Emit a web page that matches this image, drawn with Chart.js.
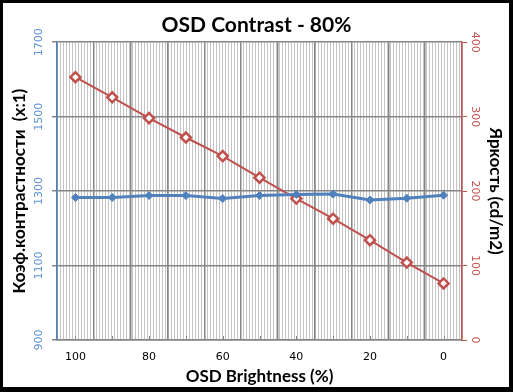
<!DOCTYPE html>
<html>
<head>
<meta charset="utf-8">
<script src="https://cdn.jsdelivr.net/npm/chart.js@4"></script>
<style>
    body { margin: 0; }
    #frame { position: relative; width: 513px; height: 392px; background: #000; }
    #inner { position: absolute; left: 3px; top: 3px; width: 506px; height: 384px; background: #fff; }
    #chart { position: absolute; left: 0; top: 0; }
</style>
</head>
<body>
<div id="frame">
    <div id="inner"></div>
    <canvas id="chart" width="513" height="392"></canvas>
</div>
<script>
// Chart data
const brightnessLevels = ['100', '90', '80', '70', '60', '50', '40', '30', '20', '10', '0'];
const contrastRatio = [1283, 1283, 1288, 1288, 1280, 1288, 1291, 1292, 1276, 1281, 1289];
const luminance = [353, 326, 298, 272, 247, 218, 190, 163, 134, 104, 76];
const contrastTicks = [900, 1100, 1300, 1500, 1700];
const luminanceTicks = [0, 100, 200, 300, 400];

const BLUE = '#4F81BD';
const RED = '#C0504D';
const GRID = '#868686';

// vertical hatch pattern behind the plot
function makeStripes(ctx) {
    const c = document.createElement('canvas');
    c.width = 3;
    c.height = 1;
    const p = c.getContext('2d');
    p.fillStyle = '#ffffff';
    p.fillRect(0, 0, 3, 1);
    p.fillStyle = '#c4c4c4';
    p.fillRect(0, 0, 1, 1);
    return ctx.createPattern(c, 'repeat');
}

const stripesPlugin = {
    id: 'stripes',
    beforeDraw(chart) {
        const { ctx, chartArea: a } = chart;
        ctx.save();
        ctx.fillStyle = makeStripes(ctx);
        ctx.fillRect(a.left, a.top, a.right - a.left, a.bottom - a.top);
        ctx.restore();
    }
};

// rotated y tick labels, as in the original
const yLabelsPlugin = {
    id: 'yLabels',
    afterDraw(chart) {
        const ctx = chart.ctx;
        ctx.save();
        ctx.font = '11px "DejaVu Sans"';
        ctx.textAlign = 'center';
        ctx.textBaseline = 'middle';

        const left = chart.scales.y;
        ctx.fillStyle = '#5B8FD6';
        contrastTicks.forEach(v => {
            const y = left.getPixelForValue(v);
            ctx.save();
            ctx.translate(39, y);
            ctx.rotate(-Math.PI / 2);
            ctx.fillText(String(v), 0, 0);
            ctx.restore();
        });

        const right = chart.scales.y2;
        ctx.fillStyle = RED;
        luminanceTicks.forEach(v => {
            const y = right.getPixelForValue(v);
            ctx.save();
            ctx.translate(475, y);
            ctx.rotate(Math.PI / 2);
            ctx.fillText(String(v), 0, 0);
            ctx.restore();
        });

        // small inner tick marks on the category axis
        const x = chart.scales.x;
        ctx.strokeStyle = GRID;
        ctx.lineWidth = 1;
        brightnessLevels.forEach((_, i) => {
            const px = Math.round(x.getPixelForValue(i)) + 0.5;
            ctx.beginPath();
            ctx.moveTo(px, x.top);
            ctx.lineTo(px, x.top - 4);
            ctx.stroke();
        });
        ctx.restore();
    }
};

const ctx = document.getElementById('chart').getContext('2d');
new Chart(ctx, {
    type: 'line',
    data: {
        labels: brightnessLevels,
        datasets: [
            {
                label: 'Contrast',
                data: contrastRatio,
                yAxisID: 'y',
                borderColor: BLUE,
                backgroundColor: BLUE,
                borderWidth: 3,
                pointStyle: 'rectRot',
                pointRadius: 4,
                pointBorderWidth: 1,
                tension: 0
            },
            {
                label: 'Luminance',
                data: luminance,
                yAxisID: 'y2',
                borderColor: RED,
                backgroundColor: '#ffffff',
                borderWidth: 2,
                pointStyle: 'rectRot',
                pointRadius: 5,
                pointBorderWidth: 2.5,
                tension: 0
            }
        ]
    },
    options: {
        responsive: false,
        animation: false,
        layout: { padding: 0 },
        plugins: {
            legend: { display: false },
            tooltip: { enabled: false },
            title: {
                display: true,
                text: 'OSD Contrast - 80%',
                color: '#000',
                font: { family: 'Lato', size: 21, weight: 'bold' },
                padding: { top: 13, bottom: 4 }
            }
        },
        scales: {
            x: {
                offset: true,
                grid: {
                    offset: true,
                    color: GRID,
                    lineWidth: 1.5,
                    drawTicks: false
                },
                border: { color: GRID, width: 1.5 },
                ticks: {
                    autoSkip: false,
                    maxRotation: 0,
                    padding: 11,
                    color: '#000',
                    font: { family: 'DejaVu Sans', size: 11 },
                    callback: (v, i) => (i % 2 === 0 ? brightnessLevels[i] : '')
                },
                title: {
                    display: true,
                    text: 'OSD Brightness (%)',
                    color: '#000',
                    font: { family: 'Lato', size: 17, weight: 'bold' },
                    padding: { top: 0, bottom: 5 }
                },
                afterFit: s => { s.height = 52; }
            },
            y: {
                position: 'left',
                min: 900,
                max: 1700,
                ticks: { stepSize: 200, display: false },
                grid: { color: GRID, lineWidth: 1.5, tickLength: 5 },
                border: { color: BLUE, width: 1.5 },
                title: {
                    display: true,
                    text: 'Коэф.контрастности  (x:1)',
                    color: '#000',
                    font: { family: 'Lato', size: 17, weight: 'bold' },
                    padding: { top: 9, bottom: 0 }
                },
                afterFit: s => { s.width = 57; }
            },
            y2: {
                position: 'right',
                min: 0,
                max: 400,
                ticks: { stepSize: 100, display: false },
                grid: { drawOnChartArea: false, color: RED, tickLength: 5 },
                border: { color: RED, width: 1.5 },
                title: {
                    display: true,
                    text: 'Яркость (cd/m2)',
                    color: '#000',
                    font: { family: 'Lato', size: 17, weight: 'bold' },
                    padding: { top: 7, bottom: 0 }
                },
                afterFit: s => { s.width = 51; }
            }
        }
    },
    plugins: [stripesPlugin, yLabelsPlugin]
});
</script>
</body>
</html>
